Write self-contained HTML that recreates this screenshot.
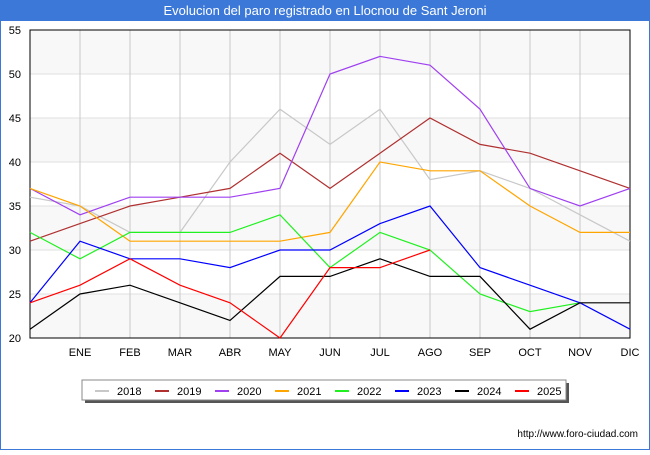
<!DOCTYPE html>
<html><head><meta charset="utf-8"><style>
body{margin:0;width:650px;height:450px;background:#fff;font-family:"Liberation Sans","DejaVu Sans",sans-serif;overflow:hidden}
</style></head><body>
<svg width="650" height="450" xmlns="http://www.w3.org/2000/svg" id="chart">
<rect x="0" y="0" width="650" height="450" fill="#fff" stroke="#3c78d8" stroke-width="2"/>
<rect x="0" y="0" width="650" height="21" fill="#3c78d8"/>
<text x="325" y="15" text-anchor="middle" fill="#fff" font-size="13">Evolucion del paro registrado en Llocnou de Sant Jeroni</text>
<g id="plot"></g>
<text x="638" y="437" text-anchor="end" font-size="10" fill="#000">http://www.foro-ciudad.com</text>
</svg>
<script>
const months=["","ENE","FEB","MAR","ABR","MAY","JUN","JUL","AGO","SEP","OCT","NOV","DIC"];
const yTicks=[20,25,30,35,40,45,50,55];
const seriesNames=["2018","2019","2020","2021","2022","2023","2024","2025"];
const seriesColors=["#c8c8c8","#b03030","#a040f0","#ffa500","#20f020","#0000ff","#000000","#ff0000"];
const s2018=[36,35,32,32,40,46,42,46,38,39,37,34,31];
const s2019=[31,33,35,36,37,41,37,41,45,42,41,39,37];
const s2020=[37,34,36,36,36,37,50,52,51,46,37,35,37];
const s2021=[37,35,31,31,31,31,32,40,39,39,35,32,32];
const s2022=[32,29,32,32,32,34,28,32,30,25,23,24];
const s2023=[24,31,29,29,28,30,30,33,35,28,26,24,21];
const s2024=[21,25,26,24,22,27,27,29,27,27,21,24,24];
const s2025=[24,26,29,26,24,20,28,28,30];
const allSeries=[s2018,s2019,s2020,s2021,s2022,s2023,s2024,s2025];
const X0=30,X1=630,Y0=30,Y1=338,YMIN=20,YMAX=55;
const xs=i=>X0+i*(X1-X0)/(months.length-1);
const ys=v=>Y1-(v-YMIN)*(Y1-Y0)/(YMAX-YMIN);
const NS="http://www.w3.org/2000/svg";
const g=document.getElementById('plot');
function mk(t,a){const e=document.createElementNS(NS,t);for(const k in a)e.setAttribute(k,a[k]);g.appendChild(e);return e;}
for(let i=0;i<yTicks.length-1;i++){
 if(i%2===0){const r=mk('rect',{x:X0,y:ys(yTicks[i+1]),width:X1-X0,height:ys(yTicks[i])-ys(yTicks[i+1]),fill:'#f8f8f8'});
 
 }
}
yTicks.forEach(v=>{
 const l=mk('line',{x1:X0,x2:X1,y1:ys(v),y2:ys(v),stroke:'#e0e0e0'});
 
 
 const t=mk('text',{x:X0-9,y:ys(v)+4,'text-anchor':'end','font-size':11,fill:'#000'});
 t.textContent=v;
 
 
});
months.forEach((m,i)=>{
 if(i>0){const l=mk('line',{x1:xs(i),x2:xs(i),y1:Y0,y2:Y1,stroke:'#c8c8c8'});
 
 }
 const t=mk('text',{x:xs(i),y:356,'text-anchor':'middle','font-size':11,fill:'#000'});
 t.textContent=m;
 
 
});
const ax=mk('rect',{x:X0,y:Y0,width:X1-X0,height:Y1-Y0,fill:'none',stroke:'#000'});


allSeries.forEach((s,k)=>{
 const p=mk('polyline',{points:s.map((v,i)=>xs(i)+','+ys(v)).join(' '),fill:'none',stroke:seriesColors[k],'stroke-width':1.2});
 
 
});
const lb=mk('rect',{x:85,y:383,width:484,height:20,fill:'#555'});


const lg=mk('rect',{x:82,y:380,width:484,height:20,fill:'#fff',stroke:'#888'});


seriesNames.forEach((n,k)=>{
 const x=95+k*60;
 const l=mk('line',{x1:x,x2:x+14,y1:391,y2:391,stroke:seriesColors[k],'stroke-width':2});
 
 
 const t=mk('text',{x:x+22,y:395,'font-size':11,fill:'#000'});
 t.textContent=n;
 
 
});
</script>
</body></html>
